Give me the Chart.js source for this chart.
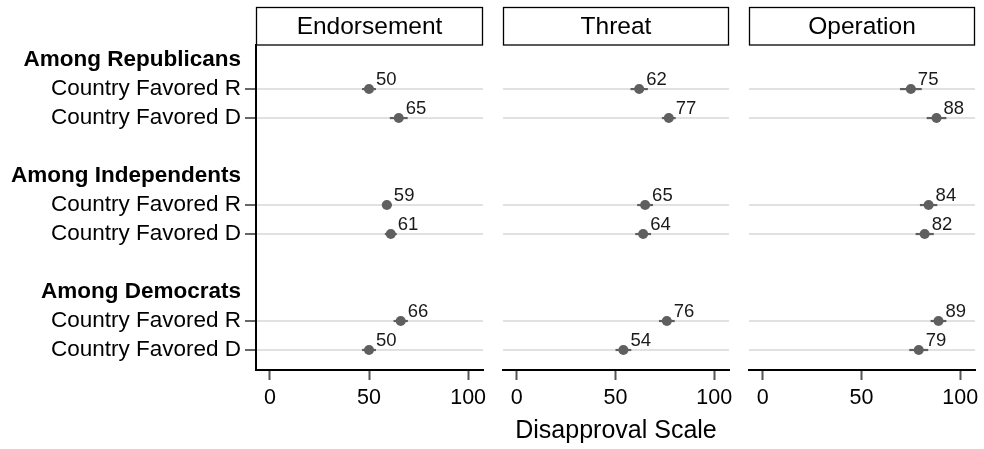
<!DOCTYPE html>
<html><head><meta charset="utf-8">
<script src="https://cdn.jsdelivr.net/npm/chart.js@4/dist/chart.umd.min.js"></script>
<style>
html,body{margin:0;padding:0;background:#fff;}
#wrap{position:relative;width:984px;height:449px;background:#fff;}
#wrap canvas{position:absolute;left:0;top:0;}
</style></head><body>
<div id="wrap">
<canvas id="c1" width="984" height="449"></canvas>
<canvas id="c2" width="984" height="449"></canvas>
<canvas id="c3" width="984" height="449"></canvas>
</div>
<script>
const rowLabels = ['Among Republicans','Country Favored R','Country Favored D','','Among Independents','Country Favored R','Country Favored D','','Among Democrats','Country Favored R','Country Favored D'];
const headingRows = [0,4,8];
const dataRows = [1,2,5,6,9,10];
const panelTitles = ['Endorsement','Threat','Operation'];
const endorsement = [50,65,59,61,66,50];
const endorsementErr = [3.5,4.5,2.5,3,3.6,3.5];
const threat = [62,77,65,64,76,54];
const threatErr = [4.4,3.5,4,4,4,4];
const operation = [75,88,84,82,89,79];
const operationErr = [5.5,5,4.4,4.6,4,4.8];
const xTicks = [0,50,100];
const axisTitle = 'Disapproval Scale';

const FAM = "'Liberation Sans', Arial, Helvetica, sans-serif";
const DOT = '#5f5f5f';
const GRID = '#e1e1e1';

function makeChart(id, title, values, errs, opts){
  const data = values.map((v,i)=>({x:v, y:dataRows[i]}));
  const panelPlugin = {
    id:'panel_'+id,
    beforeDatasetsDraw(chart){
      const {ctx, scales:{x,y}} = chart;
      ctx.save();
      ctx.strokeStyle = DOT; ctx.lineWidth = 2.2; ctx.lineCap='butt';
      data.forEach((p,i)=>{
        const py = y.getPixelForValue(p.y);
        ctx.beginPath();
        ctx.moveTo(x.getPixelForValue(p.x-errs[i]), py);
        ctx.lineTo(x.getPixelForValue(p.x+errs[i]), py);
        ctx.stroke();
      });
      ctx.restore();
    },
    afterDatasetsDraw(chart){
      const {ctx, scales:{x,y}} = chart;
      ctx.save();
      ctx.fillStyle = '#1a1a1a';
      ctx.font = '18.5px ' + FAM;
      ctx.textAlign = 'left'; ctx.textBaseline = 'alphabetic';
      data.forEach((p)=>{
        ctx.fillText(String(p.x), x.getPixelForValue(p.x)+7, y.getPixelForValue(p.y)-4);
      });
      ctx.restore();
    },
    afterDraw(chart){
      const {ctx, chartArea:a} = chart;
      ctx.save();
      const top = 7.5, bot = a.top;
      ctx.fillStyle = '#fff';
      ctx.fillRect(a.left, top, a.right-a.left, bot-top);
      ctx.strokeStyle = '#000'; ctx.lineWidth = 1.3;
      ctx.strokeRect(a.left+0.5, top, a.right-a.left-1, bot-top);
      ctx.fillStyle = '#000';
      ctx.font = '24.5px ' + FAM;
      ctx.textAlign = 'center'; ctx.textBaseline = 'middle';
      ctx.fillText(title, (a.left+a.right)/2, (top+bot)/2+1);
      ctx.restore();
    }
  };
  return new Chart(document.getElementById(id), {
    type:'scatter',
    data:{datasets:[{data, pointRadius:5, pointHoverRadius:5, pointBackgroundColor:DOT, pointBorderColor:DOT, pointBorderWidth:0}]},
    options:{
      responsive:false, animation:false, events:[],
      layout:{padding:{left:opts.left, right:opts.right, top:45, bottom:0}},
      plugins:{legend:{display:false}, tooltip:{enabled:false}},
      scales:{
        x:{
          type:'linear', min:-7, max:107.5,
          afterBuildTicks:(s)=>{ s.ticks = xTicks.map(v=>({value:v})); },
          afterFit:(s)=>{ s.height = 79; },
          ticks:{color:'#000', font:{family:FAM, size:21.5}, padding:5, maxRotation:0, autoSkip:false},
          grid:{drawOnChartArea:false, drawTicks:true, tickLength:10, tickColor:'#555', tickWidth:2},
          border:{display:true, color:'#000', width:2},
          title:{display:!!opts.xTitle, text:axisTitle, color:'#000', font:{family:FAM, size:25}, padding:{top:0,bottom:3}}
        },
        y:{
          type:'linear', reverse:true, min:-0.52, max:10.69,
          afterBuildTicks:(s)=>{ s.ticks = rowLabels.map((_,i)=>({value:i})); },
          afterFit:(s)=>{ s.width = opts.yWidth; },
          ticks:{
            display:opts.showY, autoSkip:false, padding:4, color:'#000',
            callback:(v)=>rowLabels[v] || '',
            font:(c)=>({family:FAM, size:22.5, weight: headingRows.includes(c.tick && c.tick.value) ? 'bold' : 'normal'})
          },
          grid:{
            drawTicks:opts.showY, tickLength:11, lineWidth:2,
            color:(c)=> dataRows.includes(c.tick && c.tick.value) ? GRID : 'rgba(0,0,0,0)',
            tickColor:(c)=> dataRows.includes(c.tick && c.tick.value) ? '#000' : 'rgba(0,0,0,0)',
            tickWidth:1.2
          },
          border:{display:opts.showY, color:'#000', width:2}
        }
      }
    },
    plugins:[panelPlugin]
  });
}

makeChart('c1', panelTitles[0], endorsement, endorsementErr, {left:0, right:984-483, yWidth:256, showY:true, xTitle:false});
makeChart('c2', panelTitles[1], threat, threatErr, {left:503, right:984-729, yWidth:0, showY:false, xTitle:true});
makeChart('c3', panelTitles[2], operation, operationErr, {left:749, right:984-975, yWidth:0, showY:false, xTitle:false});
</script>
</body></html>
